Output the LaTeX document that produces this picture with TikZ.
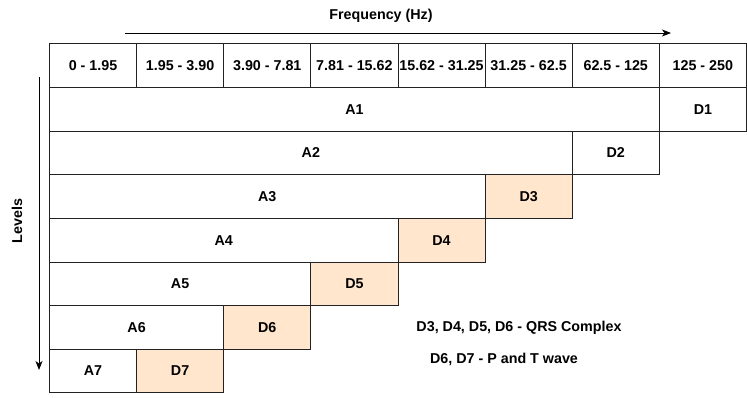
\documentclass[tikz,border=0pt]{standalone}
\usepackage{fontspec}
\setmainfont{Liberation Sans}
\usetikzlibrary{arrows.meta}
\definecolor{dfill}{HTML}{FFE6CC}
\definecolor{edge}{HTML}{222222}
\begin{document}
\begin{tikzpicture}[x=1pt,y=-1pt,
  every node/.style={font=\fontsize{14.3}{17}\selectfont\bfseries},
  cell/.style={draw=edge, line width=0.9pt, fill=white, minimum height=43.6pt, anchor=north west, inner sep=0pt},
  dcell/.style={cell, fill=dfill},
  arr/.style={line width=0.9pt, -{Stealth[length=9pt,width=7pt,inset=2.5pt]}}]
\useasboundingbox (0,0) rectangle (747,398);
\def\cw{87.125}
\def\rh{43.6}
\def\xo{49}
\def\yo{43.5}
% header
\node[cell, minimum width=\cw pt] (h0) at (\xo+0*\cw,\yo) {0 - 1.95};
\node[cell, minimum width=\cw pt] (h1) at (\xo+1*\cw,\yo) {1.95 - 3.90};
\node[cell, minimum width=\cw pt] (h2) at (\xo+2*\cw,\yo) {3.90 - 7.81};
\node[cell, minimum width=\cw pt] (h3) at (\xo+3*\cw,\yo) {7.81 - 15.62};
\node[cell, minimum width=\cw pt] (h4) at (\xo+4*\cw,\yo) {15.62 - 31.25};
\node[cell, minimum width=\cw pt] (h5) at (\xo+5*\cw,\yo) {31.25 - 62.5};
\node[cell, minimum width=\cw pt] (h6) at (\xo+6*\cw,\yo) {62.5 - 125};
\node[cell, minimum width=\cw pt] (h7) at (\xo+7*\cw,\yo) {125 - 250};
% levels
\node[cell, minimum width=7*\cw pt] (a1) at (\xo,\yo+1*\rh) {A1};
\node[cell, minimum width=\cw pt] (d1) at (\xo+7*\cw,\yo+1*\rh) {D1};
\node[cell, minimum width=6*\cw pt] (a2) at (\xo,\yo+2*\rh) {A2};
\node[cell, minimum width=\cw pt] (d2) at (\xo+6*\cw,\yo+2*\rh) {D2};
\node[cell, minimum width=5*\cw pt] (a3) at (\xo,\yo+3*\rh) {A3};
\node[dcell, minimum width=\cw pt] (d3) at (\xo+5*\cw,\yo+3*\rh) {D3};
\node[cell, minimum width=4*\cw pt] (a4) at (\xo,\yo+4*\rh) {A4};
\node[dcell, minimum width=\cw pt] (d4) at (\xo+4*\cw,\yo+4*\rh) {D4};
\node[cell, minimum width=3*\cw pt] (a5) at (\xo,\yo+5*\rh) {A5};
\node[dcell, minimum width=\cw pt] (d5) at (\xo+3*\cw,\yo+5*\rh) {D5};
\node[cell, minimum width=2*\cw pt] (a6) at (\xo,\yo+6*\rh) {A6};
\node[dcell, minimum width=\cw pt] (d6) at (\xo+2*\cw,\yo+6*\rh) {D6};
\node[cell, minimum width=\cw pt] (a7) at (\xo,\yo+7*\rh) {A7};
\node[dcell, minimum width=\cw pt] (d7) at (\xo+1*\cw,\yo+7*\rh) {D7};
% axes
\coordinate (fs) at (125,33);
\coordinate (fe) at (671,33);
\draw[arr] (fs) -- (fe);
\node (freq) at (381,16) {Frequency (Hz)};
\coordinate (ls) at (39,77);
\coordinate (le) at (39,370);
\draw[arr] (ls) -- (le);
\node[rotate=90] (lev) at (17,221) {Levels};
% notes
\node (n1) at (519,328) {D3, D4, D5, D6 - QRS Complex};
\node (n2) at (504,359) {D6, D7 - P and T wave};
\end{tikzpicture}
\end{document}
